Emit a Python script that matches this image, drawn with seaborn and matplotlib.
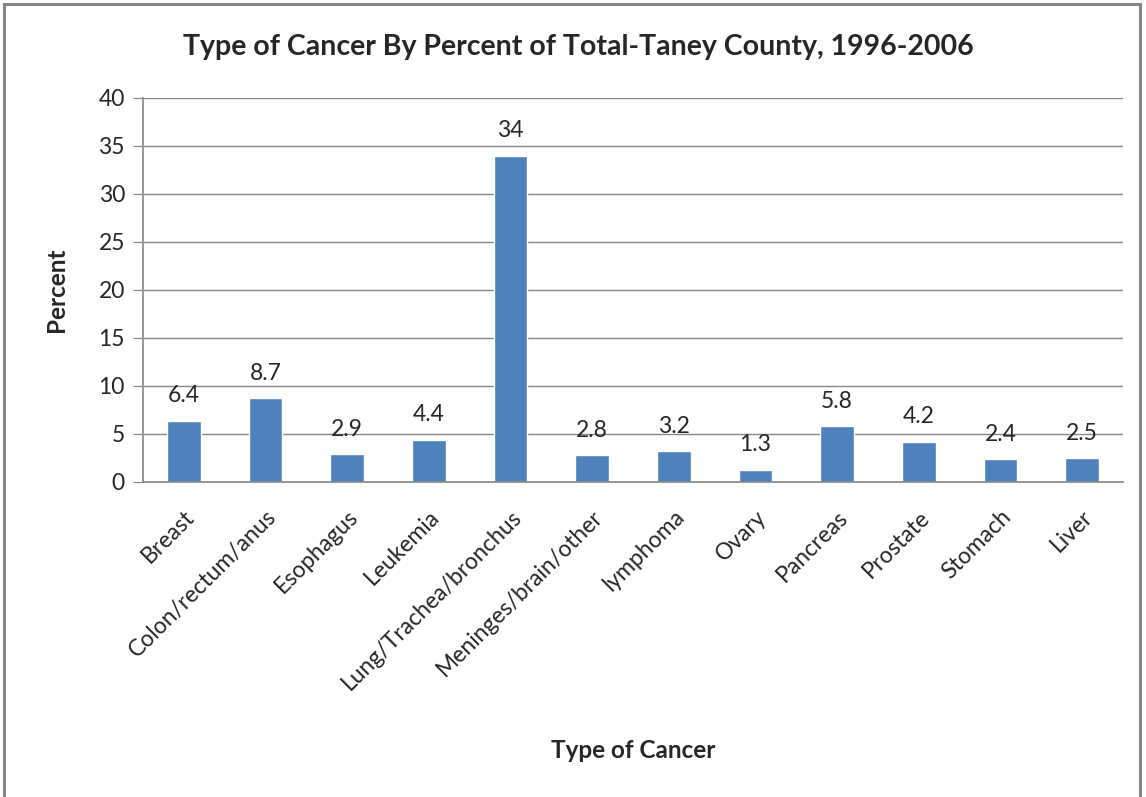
import matplotlib
matplotlib.use("Agg")
import matplotlib.pyplot as plt
import seaborn as sns
import pandas as pd
from matplotlib.patches import Rectangle

# Data
cancer_types = ["Breast", "Colon/rectum/anus", "Esophagus", "Leukemia",
                "Lung/Trachea/bronchus", "Meninges/brain/other", "lymphoma",
                "Ovary", "Pancreas", "Prostate", "Stomach", "Liver"]
percents = [6.4, 8.7, 2.9, 4.4, 34, 2.8, 3.2, 1.3, 5.8, 4.2, 2.4, 2.5]
value_labels = ["6.4", "8.7", "2.9", "4.4", "34", "2.8", "3.2", "1.3",
                "5.8", "4.2", "2.4", "2.5"]

df = pd.DataFrame({"Type": cancer_types, "Percent": percents})

sns.set_style("white")
plt.rcParams["font.family"] = ["Lato", "DejaVu Sans"]

fig = plt.figure(figsize=(11.46, 7.97), dpi=100)
ax = fig.add_axes([143 / 1146, 1 - 482 / 797, 980 / 1146, 384 / 797])

sns.barplot(x="Type", y="Percent", data=df, color="#4F81BD", saturation=1,
            width=0.41, ax=ax)

ax.set_ylim(0, 40)
ax.set_xlim(-0.5, len(cancer_types) - 0.5)
ax.set_yticks(range(0, 41, 5))
ax.yaxis.grid(True, color="#868686", linewidth=1)
ax.set_axisbelow(True)

for side in ["top", "right"]:
    ax.spines[side].set_visible(False)
for side in ["left", "bottom"]:
    ax.spines[side].set_color("#868686")
    ax.spines[side].set_linewidth(1.2)

ax.tick_params(axis="y", which="both", left=True, length=7, color="#868686",
               labelsize=16.5, pad=6)
ax.tick_params(axis="x", bottom=False, labelsize=16.5, pad=14)
ax.set_xticks(range(len(cancer_types)))
ax.set_xticklabels(cancer_types, rotation=45, ha="right", rotation_mode="anchor")

for i, (v, lab) in enumerate(zip(percents, value_labels)):
    ax.text(i, v + 1.5, lab, ha="center", va="bottom", fontsize=16.5)

ax.set_xlabel("")
ax.set_ylabel("")
fig.text(57 / 1146, 1 - 290 / 797, "Percent", rotation=90, ha="center",
         va="center", fontsize=17.5, fontweight="bold")
fig.text(633 / 1146, 1 - 750 / 797, "Type of Cancer", ha="center",
         va="center", fontsize=17.5, fontweight="bold")
fig.text(578 / 1146, 1 - 47 / 797,
         "Type of Cancer By Percent of Total-Taney County, 1996-2006",
         ha="center", va="center", fontsize=20.5, fontweight="bold")

# outer chart frame
fig.patches.append(Rectangle((4 / 1146, -0.05), 1136 / 1146, 1.05 - 4 / 797,
                             transform=fig.transFigure, fill=False,
                             edgecolor="#868686", linewidth=2.2))

fig.savefig("out.png", dpi=100)
